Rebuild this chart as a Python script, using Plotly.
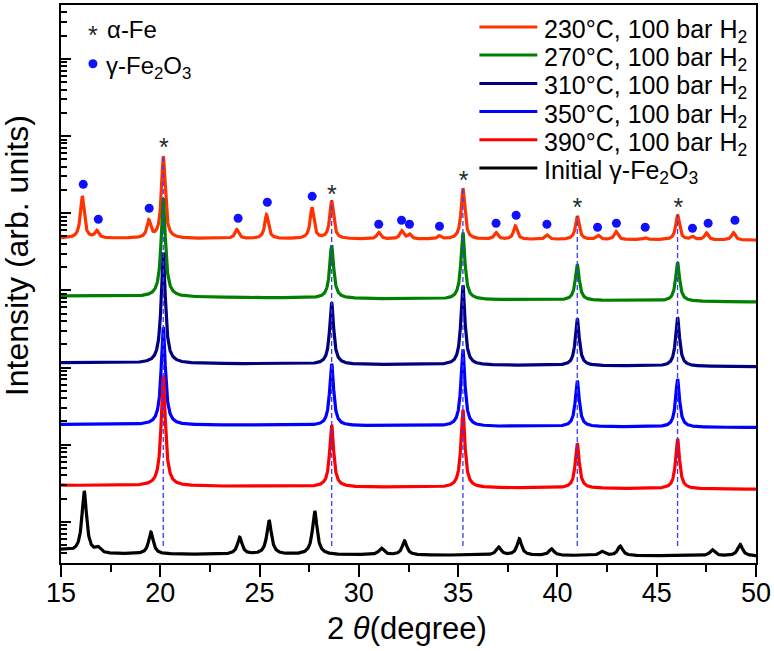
import numpy as np
import plotly.graph_objects as go

# ---------------- data ----------------
two_theta_min, two_theta_max = 15, 50

series_names = [
    "230°C, 100 bar H<sub>2</sub>",
    "270°C, 100 bar H<sub>2</sub>",
    "310°C, 100 bar H<sub>2</sub>",
    "350°C, 100 bar H<sub>2</sub>",
    "390°C, 100 bar H<sub>2</sub>",
    "Initial γ-Fe<sub>2</sub>O<sub>3</sub>",
]
series_colors = ["#FF3300", "#008000", "#000080", "#0000FF", "#FF0000", "#000000"]

# stacked background level (offset intensity, arb. units) at 2θ=15 and 2θ=50
bg_start = [326, 268, 201, 139, 78, 9]
bg_end = [324, 262, 197, 136, 74, 7]

# peak lists: position (2θ), height, FWHM (degree)
pk230_pos = [16.07, 16.80, 19.42, 20.15, 23.85, 25.35, 27.64, 28.63, 31.00, 32.16, 32.55, 34.06,
             35.24, 36.91, 37.88, 39.47, 41.00, 42.05, 42.95, 44.42, 46.05, 46.80, 47.50, 48.86]
pk230_h = [42, 7, 17, 82, 9, 24, 31, 38, 6.5, 8, 4.5, 3, 51, 6.5, 13.5, 4.5, 23.5, 4, 8, 2, 25, 3, 7, 7.5]
pk230_w = [0.22] * len(pk230_pos)

alpha_pos = [20.15, 28.63, 35.24, 41.00, 46.05]
pk270_h = [99, 53, 67, 36, 39]
pk310_h = [111, 62, 80, 47, 49]
pk350_h = [98, 62, 77, 46, 48]
pk390_h = [111, 62, 78, 45, 50]
alpha_w = [0.25, 0.24, 0.24, 0.24, 0.24]

pk_init_pos = [15.0, 16.17, 16.86, 19.53, 24.00, 25.48, 27.78, 31.13, 32.30, 37.04, 38.08, 39.70,
               42.24, 43.16, 47.80, 49.20]
pk_init_h = [4, 62, 5, 22, 17, 34, 43.5, 6.5, 14, 8, 16.5, 6.5, 4, 9.5, 6, 11.5]
pk_init_w = [1.2, 0.28, 0.3, 0.28, 0.28, 0.28, 0.28, 0.3, 0.28, 0.3, 0.28, 0.3, 0.3, 0.3, 0.3, 0.3]

# γ-Fe2O3 reflection markers (blue dots) above the 230°C pattern
gamma_x = [16.12, 16.88, 19.44, 23.92, 25.39, 27.65, 31.00, 32.15, 32.55, 34.06, 36.91, 37.92,
           39.47, 42.02, 42.97, 44.42, 46.80, 47.59, 48.94]
gamma_y = [380, 345, 356, 346, 362, 368, 340, 344, 340, 338, 341, 349, 340, 337, 341, 337, 336, 341, 344]

# α-Fe reflection markers (asterisks)
alpha_mark_x = [20.18, 28.64, 35.28, 41.01, 46.09]
alpha_mark_y = [421, 374, 388, 361, 361]
alpha_line_bottom = 17

x_ticks = [15, 20, 25, 30, 35, 40, 45, 50]

# ---------------- build ----------------
FONT = "Arial, 'Liberation Sans', sans-serif"
L, R, T, B = 61, 17, 3, 88
W, H = 774, 651
PW, PH = W - L - R, H - T - B


def px_x(p):
    return (p - L) / PW


def px_y(p):
    return (T + PH - p) / PH


x = np.round(np.arange(two_theta_min, two_theta_max + 0.0001, 0.01), 3)


def profile(i, pos, hts, wds):
    y = bg_start[i] + (bg_end[i] - bg_start[i]) * (x - two_theta_min) / (two_theta_max - two_theta_min)
    for p, h, w in zip(pos, hts, wds):
        y = y + h / (1.0 + ((x - p) / (w / 2.0)) ** 2)
    return y


peak_sets = [
    (pk230_pos, pk230_h, pk230_w),
    (alpha_pos, pk270_h, alpha_w),
    (alpha_pos, pk310_h, alpha_w),
    (alpha_pos, pk350_h, alpha_w),
    (alpha_pos, pk390_h, alpha_w),
    (pk_init_pos, pk_init_h, pk_init_w),
]

fig = go.Figure()

# invisible anchor trace so the logarithmic intensity frame is drawn
fig.add_trace(go.Scatter(x=[two_theta_min], y=[1], mode="markers", yaxis="y",
                         marker=dict(opacity=0, size=1), showlegend=False, hoverinfo="skip"))

curves = []
for i, (pos, hts, wds) in enumerate(peak_sets):
    y = profile(i, pos, hts, wds)
    curves.append(y)
    fig.add_trace(go.Scatter(
        x=x, y=y, mode="lines", name=series_names[i],
        line=dict(color=series_colors[i], width=3.2),
        yaxis="y2", showlegend=False, hoverinfo="skip",
    ))

fig.add_trace(go.Scatter(
    x=gamma_x, y=gamma_y, mode="markers", yaxis="y2", showlegend=False,
    marker=dict(color="#1010FF", size=9, line=dict(width=0)), hoverinfo="skip",
))

GLYPH_OFFSET = 6
fig.add_trace(go.Scatter(
    x=alpha_mark_x, y=[v - GLYPH_OFFSET for v in alpha_mark_y], mode="text", text=["*"] * len(alpha_mark_x),
    textposition="middle center", textfont=dict(family=FONT, size=25, color="#1c2a2a"),
    yaxis="y2", showlegend=False, hoverinfo="skip",
))

# dashed guide lines at the α-Fe reflections
shapes = []
for ax in alpha_pos:
    top = float(np.interp(ax, x, curves[0]))
    shapes.append(dict(type="line", xref="x", yref="y2", x0=ax, x1=ax, y0=alpha_line_bottom, y1=top,
                       line=dict(color="#3a3aff", width=1.3, dash="5px,3px"), layer="above"))

# legend (manual, right)
annotations = []
leg_rows = [25, 53.3, 81.7, 110, 138.3, 166.7]
for i, name in enumerate(series_names):
    shapes.append(dict(type="line", xref="paper", yref="paper",
                       x0=px_x(480), x1=px_x(538), y0=px_y(leg_rows[i]), y1=px_y(leg_rows[i]),
                       line=dict(color=series_colors[i], width=3), layer="above"))
    annotations.append(dict(xref="paper", yref="paper", x=px_x(543), y=px_y(leg_rows[i] + 4),
                            xanchor="left", yanchor="middle", text=name, showarrow=False,
                            font=dict(family=FONT, size=25, color="black")))

# symbol key (top-left)
annotations.append(dict(xref="paper", yref="paper", x=px_x(93), y=px_y(27 + GLYPH_OFFSET),
                        xanchor="center", yanchor="middle", text="*", showarrow=False,
                        font=dict(family=FONT, size=25, color="#1c2a2a")))
annotations.append(dict(xref="paper", yref="paper", x=px_x(105), y=px_y(28),
                        xanchor="left", yanchor="middle", text="α-Fe", showarrow=False,
                        font=dict(family=FONT, size=24, color="black")))
shapes.append(dict(type="circle", xref="paper", yref="paper", xsizemode="pixel", ysizemode="pixel",
                   xanchor=px_x(93), yanchor=px_y(62), x0=-4.5, x1=4.5, y0=-4.5, y1=4.5,
                   fillcolor="#1010FF", line=dict(width=0), layer="above"))
annotations.append(dict(xref="paper", yref="paper", x=px_x(104), y=px_y(66),
                        xanchor="left", yanchor="middle", text="γ-Fe<sub>2</sub>O<sub>3</sub>", showarrow=False,
                        font=dict(family=FONT, size=24, color="black")))

# axis titles
annotations.append(dict(xref="paper", yref="paper", x=px_x(407), y=px_y(629),
                        xanchor="center", yanchor="middle", text="2 <i>θ</i>(degree)", showarrow=False,
                        font=dict(family=FONT, size=31, color="black")))
annotations.append(dict(xref="paper", yref="paper", x=px_x(17), y=px_y(255),
                        xanchor="center", yanchor="middle", text="Intensity (arb. units)", textangle=-90,
                        showarrow=False, font=dict(family=FONT, size=32, color="black")))

fig.update_layout(
    width=W, height=H,
    margin=dict(l=L, r=R, t=T, b=B),
    paper_bgcolor="white", plot_bgcolor="white",
    font=dict(family=FONT, color="black"),
    showlegend=False,
    xaxis=dict(
        range=[two_theta_min, two_theta_max], tickvals=x_ticks, ticks="outside", ticklen=12, tickwidth=2,
        tickcolor="black", showline=True, linewidth=2, linecolor="black", mirror=True,
        showgrid=False, zeroline=False, tickfont=dict(family=FONT, size=27, color="black"),
        ticklabelstandoff=-7,
        minor=dict(ticks="outside", ticklen=7, tickwidth=2, tickcolor="black", dtick=2.5, tick0=15, showgrid=False),
    ),
    yaxis=dict(
        type="log", range=[-0.533, 6.697], dtick=1, ticks="inside", ticklen=10, tickwidth=2,
        tickcolor="black", showticklabels=False, showline=True, linewidth=2, linecolor="black",
        mirror=True, showgrid=False, zeroline=False,
        minor=dict(ticks="inside", ticklen=6, tickwidth=1.5, tickcolor="black", dtick="D1", showgrid=False),
    ),
    yaxis2=dict(range=[0, PH], overlaying="y", visible=False, showgrid=False, zeroline=False),
    shapes=shapes,
    annotations=annotations,
)

fig.write_html("out.html", config={"displayModeBar": False},
               post_script="document.body.style.margin='0';document.body.style.overflow='hidden';")
